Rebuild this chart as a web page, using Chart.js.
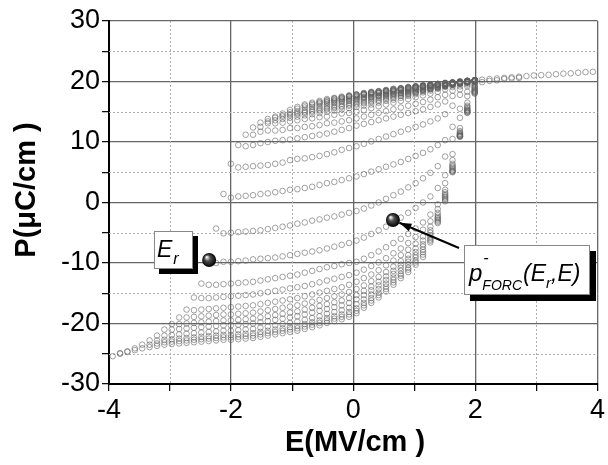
<!DOCTYPE html>
<html lang="en">
<head>
<meta charset="UTF-8">
<title>FORC</title>
<style>
  body { margin: 0; background: #fff; }
  canvas { display: block; }
</style>
</head>
<body>
<canvas id="forcChart" width="608" height="465"></canvas>
<script src="https://cdn.jsdelivr.net/npm/chart.js@4.4.0/dist/chart.umd.min.js"></script>
<script>
// field grid (MV/cm) shared by every reversal curve
const eGrid = [-3.94, -3.819, -3.698, -3.577, -3.456, -3.335, -3.214, -3.093, -2.972, -2.851,
  -2.73, -2.609, -2.488, -2.367, -2.246, -2.125, -2.004, -1.883, -1.762, -1.641,
  -1.52, -1.399, -1.278, -1.157, -1.036, -0.915, -0.794, -0.673, -0.552, -0.431,
  -0.31, -0.189, -0.068, 0.053, 0.174, 0.295, 0.416, 0.537, 0.658, 0.779,
  0.9, 1.021, 1.142, 1.263, 1.384, 1.505, 1.626, 1.747, 1.868, 1.989,
  2.11, 2.231, 2.352, 2.473, 2.594, 2.715, 2.836, 2.957, 3.078, 3.199,
  3.32, 3.441, 3.562, 3.683, 3.804, 3.925];

// descending branch (start point of every FORC) + saturated upper branch
const majorP = [-25.4, -24.9, -24.6, -24.1, -23.5, -22.8, -22.0, -21.0, -20.1, -19.0,
  -17.7, -15.7, -13.4, -9.8, -4.3, 1.4, 6.4, 9.5, 11.2, 12.4,
  13.2, 13.8, 14.2, 14.7, 15.3, 15.8, 16.2, 16.5, 16.8, 17.1,
  17.3, 17.5, 17.7, 17.9, 18.1, 18.3, 18.4, 18.6, 18.8, 18.9,
  19.1, 19.2, 19.4, 19.5, 19.6, 19.8, 19.9, 20.0, 20.1, 20.2,
  20.3, 20.4, 20.5, 20.6, 20.7, 20.8, 20.9, 21.0, 21.05, 21.1,
  21.2, 21.3, 21.35, 21.45, 21.55, 21.6];

// reversal curves: values after the start point, up to E = 1.989
const forc00 = [-25.0, -24.7, -24.4, -24.1, -23.9, -23.7, -23.5, -23.4, -23.3, -23.2,
  -23.1, -23.0, -22.9, -22.8, -22.7, -22.7, -22.6, -22.5, -22.4, -22.2,
  -22.0, -21.8, -21.6, -21.4, -21.2, -20.9, -20.6, -20.3, -19.9, -19.6,
  -19.3, -18.9, -18.3, -17.4, -16.6, -15.7, -14.7, -13.6, -12.5, -11.5,
  -10.3, -9.0, -6.6, -3.4, 0.2, 5.0, 10.9, 14.8, 18.0];
const forc04 = [-23.5, -23.3, -23.1, -23.0, -22.9, -22.8, -22.7, -22.6, -22.5, -22.4,
  -22.3, -22.3, -22.2, -22.1, -22.0, -21.8, -21.6, -21.4, -21.2, -21.0,
  -20.8, -20.5, -20.2, -19.9, -19.5, -19.2, -18.9, -18.5, -17.9, -17.0,
  -16.2, -15.3, -14.3, -13.2, -12.1, -11.1, -9.9, -8.6, -6.3, -3.2,
  0.4, 5.1, 10.9, 14.9, 18.1];
const forc05 = [-22.8, -22.7, -22.6, -22.5, -22.4, -22.3, -22.2, -22.1, -22.0, -21.9,
  -21.9, -21.8, -21.7, -21.6, -21.4, -21.2, -21.0, -20.8, -20.6, -20.4,
  -20.1, -19.8, -19.5, -19.1, -18.8, -18.5, -18.1, -17.5, -16.6, -15.8,
  -14.9, -13.9, -12.8, -11.8, -10.8, -9.6, -8.2, -6.1, -3.0, 0.6,
  5.2, 11.0, 15.0, 18.2];
const forc06 = [-22.0, -21.9, -21.8, -21.7, -21.6, -21.5, -21.4, -21.3, -21.2, -21.2,
  -21.1, -21.0, -20.9, -20.7, -20.5, -20.3, -20.1, -19.9, -19.7, -19.4,
  -19.1, -18.8, -18.4, -18.1, -17.8, -17.4, -16.8, -16.0, -15.2, -14.3,
  -13.4, -12.4, -11.3, -10.3, -9.1, -7.8, -5.8, -2.8, 0.8, 5.3,
  11.0, 15.1, 18.3];
const forc07 = [-21.0, -20.9, -20.8, -20.7, -20.6, -20.5, -20.4, -20.3, -20.3, -20.2,
  -20.1, -20.0, -19.8, -19.6, -19.4, -19.2, -19.0, -18.8, -18.5, -18.2,
  -17.9, -17.6, -17.3, -17.0, -16.6, -16.0, -15.3, -14.5, -13.7, -12.8,
  -11.8, -10.8, -9.8, -8.7, -7.3, -5.4, -2.6, 1.0, 5.5, 11.1,
  15.2, 18.4];
const forc08 = [-20.1, -20.0, -19.9, -19.8, -19.7, -19.6, -19.5, -19.5, -19.4, -19.3,
  -19.2, -19.0, -18.8, -18.6, -18.4, -18.2, -18.0, -17.7, -17.4, -17.1,
  -16.8, -16.5, -16.2, -15.8, -15.3, -14.6, -13.9, -13.1, -12.2, -11.3,
  -10.3, -9.3, -8.2, -6.9, -5.0, -2.4, 1.2, 5.7, 11.2, 15.3,
  18.5];
const forc09 = [-19.0, -18.9, -18.8, -18.7, -18.6, -18.5, -18.5, -18.4, -18.3, -18.2,
  -18.0, -17.8, -17.6, -17.4, -17.2, -17.0, -16.7, -16.4, -16.1, -15.8,
  -15.5, -15.2, -14.8, -14.3, -13.7, -13.0, -12.3, -11.5, -10.6, -9.7,
  -8.7, -7.6, -6.3, -4.6, -2.1, 1.4, 5.9, 11.3, 15.4, 18.6];
const forc10 = [-17.8, -17.7, -17.6, -17.5, -17.4, -17.3, -17.2, -17.1, -17.0, -16.8,
  -16.6, -16.4, -16.2, -16.0, -15.8, -15.5, -15.2, -14.9, -14.6, -14.3,
  -14.0, -13.6, -13.1, -12.5, -11.9, -11.2, -10.4, -9.6, -8.7, -7.8,
  -6.8, -5.6, -4.0, -1.7, 1.7, 6.1, 11.4, 15.6, 18.8];
const forc11 = [-15.8, -15.8, -15.7, -15.6, -15.5, -15.4, -15.3, -15.2, -15.0, -14.8,
  -14.6, -14.4, -14.2, -14.0, -13.8, -13.5, -13.2, -12.9, -12.6, -12.3,
  -12.0, -11.6, -11.1, -10.5, -9.9, -9.2, -8.4, -7.6, -6.7, -5.7,
  -4.5, -3.1, -1.1, 2.1, 6.4, 11.6, 15.8, 19.0];
const forc12 = [-13.6, -13.6, -13.5, -13.4, -13.3, -13.2, -13.1, -12.9, -12.7, -12.5,
  -12.3, -12.1, -11.9, -11.6, -11.3, -11.0, -10.7, -10.5, -10.2, -10.0,
  -9.8, -9.3, -8.7, -8.1, -7.4, -6.7, -6.0, -5.2, -4.3, -3.3,
  -2.0, -0.3, 3.2, 7.0, 11.8, 16.0, 19.1];
const forc13 = [-10.0, -9.8, -9.8, -9.7, -9.6, -9.4, -9.3, -9.2, -9.1, -8.9,
  -8.7, -8.5, -8.3, -8.1, -7.9, -7.6, -7.3, -7.0, -6.7, -6.3,
  -5.8, -5.2, -4.6, -4.0, -3.2, -2.5, -1.7, -0.9, 0.0, 1.0,
  2.4, 4.5, 8.0, 12.3, 16.5, 19.3];
const forc14 = [-5.1, -5.0, -4.9, -4.8, -4.7, -4.6, -4.4, -4.2, -4.0, -3.8,
  -3.5, -3.3, -3.0, -2.8, -2.5, -2.3, -2.0, -1.7, -1.4, -1.0,
  -0.5, 0.0, 0.6, 1.2, 1.8, 2.5, 3.2, 4.0, 4.9, 6.0,
  7.6, 10.5, 14.0, 17.6, 19.5];
const forc15 = [0.8, 1.0, 1.1, 1.2, 1.4, 1.5, 1.7, 1.9, 2.1, 2.2,
  2.4, 2.6, 2.9, 3.2, 3.4, 3.7, 4.0, 4.3, 4.7, 5.1,
  5.5, 5.9, 6.3, 6.7, 7.2, 7.7, 8.2, 8.8, 9.5, 10.3,
  12.5, 15.5, 18.3, 19.7];
const forc16 = [5.8, 5.9, 6.0, 6.1, 6.2, 6.4, 6.6, 7.0, 7.2, 7.3,
  7.5, 7.7, 8.0, 8.3, 8.7, 9.0, 9.3, 9.7, 10.1, 10.5,
  10.9, 11.3, 11.7, 12.1, 12.5, 12.9, 13.4, 13.9, 14.6, 16.0,
  17.8, 19.2, 19.9];
const forc17 = [9.3, 9.5, 9.8, 10.0, 10.2, 10.3, 10.4, 10.6, 10.8, 11.0,
  11.2, 11.4, 11.7, 12.0, 12.3, 12.7, 13.0, 13.3, 13.6, 13.9,
  14.2, 14.5, 14.8, 15.1, 15.4, 15.8, 16.2, 16.7, 17.6, 18.7,
  19.5, 20.0];
const forc18 = [11.2, 11.7, 11.9, 11.9, 12.0, 12.3, 12.3, 12.5, 12.6, 12.8,
  13.1, 13.2, 13.4, 13.6, 13.9, 14.2, 14.5, 14.8, 15.1, 15.4,
  15.7, 16.0, 16.3, 16.6, 17.0, 17.4, 17.8, 18.5, 19.2, 19.7,
  20.0];
const forc19 = [12.5, 13.1, 13.1, 13.2, 13.4, 13.6, 13.8, 13.9, 14.1, 14.2,
  14.5, 14.7, 14.8, 15.0, 15.3, 15.6, 15.9, 16.2, 16.5, 16.8,
  17.1, 17.4, 17.7, 18.0, 18.3, 18.7, 19.1, 19.5, 19.8, 20.1];
const forc20 = [13.4, 13.6, 13.8, 14.0, 14.2, 14.4, 14.6, 14.8, 15.0, 15.2,
  15.4, 15.6, 15.8, 16.0, 16.2, 16.5, 16.8, 17.0, 17.3, 17.6,
  17.9, 18.2, 18.5, 18.8, 19.1, 19.4, 19.7, 19.9, 20.1];
const forc21 = [14.0, 14.2, 14.4, 14.6, 14.8, 15.0, 15.2, 15.4, 15.6, 15.8,
  16.0, 16.2, 16.4, 16.6, 16.8, 17.1, 17.3, 17.6, 17.8, 18.1,
  18.4, 18.7, 18.9, 19.2, 19.5, 19.7, 19.9, 20.1];
const forc22 = [14.4, 14.6, 14.8, 15.0, 15.2, 15.4, 15.6, 15.8, 16.0, 16.2,
  16.4, 16.6, 16.8, 17.0, 17.3, 17.5, 17.7, 18.0, 18.2, 18.5,
  18.8, 19.0, 19.3, 19.5, 19.8, 20.0, 20.1];
const forc23 = [14.9, 15.1, 15.3, 15.5, 15.7, 15.9, 16.1, 16.3, 16.5, 16.7,
  16.9, 17.1, 17.3, 17.5, 17.7, 17.9, 18.1, 18.3, 18.6, 18.8,
  19.0, 19.3, 19.5, 19.7, 19.9, 20.1];
const forc24 = [15.5, 15.7, 15.8, 16.0, 16.2, 16.4, 16.6, 16.8, 16.9, 17.1,
  17.3, 17.5, 17.7, 17.9, 18.1, 18.3, 18.5, 18.7, 18.9, 19.1,
  19.3, 19.5, 19.7, 19.9, 20.1];
const forc25 = [16.0, 16.1, 16.3, 16.5, 16.6, 16.8, 16.9, 17.1, 17.3, 17.4,
  17.6, 17.8, 18.0, 18.1, 18.3, 18.5, 18.7, 18.9, 19.1, 19.3,
  19.5, 19.7, 19.9, 20.1];
const forc26 = [16.3, 16.5, 16.6, 16.8, 16.9, 17.1, 17.2, 17.4, 17.5, 17.7,
  17.9, 18.0, 18.2, 18.4, 18.6, 18.8, 19.0, 19.2, 19.4, 19.6,
  19.8, 19.9, 20.1];
const forc27 = [16.6, 16.8, 16.9, 17.1, 17.2, 17.4, 17.5, 17.7, 17.8, 18.0,
  18.2, 18.3, 18.5, 18.7, 18.9, 19.1, 19.3, 19.4, 19.6, 19.8,
  20.0, 20.1];
const forc28 = [16.9, 17.1, 17.2, 17.4, 17.5, 17.7, 17.8, 18.0, 18.1, 18.3,
  18.5, 18.6, 18.8, 19.0, 19.2, 19.3, 19.5, 19.7, 19.8, 20.0, 20.1];
const forc29 = [17.2, 17.3, 17.5, 17.6, 17.8, 17.9, 18.1, 18.2, 18.4, 18.5,
  18.7, 18.9, 19.0, 19.2, 19.4, 19.5, 19.7, 19.8, 20.0, 20.1];
const forc30 = [17.4, 17.6, 17.7, 17.9, 18.0, 18.1, 18.3, 18.4, 18.6, 18.7,
  18.9, 19.1, 19.2, 19.4, 19.5, 19.7, 19.8, 20.0, 20.1];
const forc31 = [17.6, 17.8, 17.9, 18.1, 18.2, 18.4, 18.5, 18.6, 18.8, 18.9,
  19.1, 19.3, 19.4, 19.6, 19.7, 19.9, 20.0, 20.1];
const forc32 = [17.8, 18.0, 18.1, 18.3, 18.4, 18.6, 18.7, 18.9, 19.0, 19.2,
  19.3, 19.5, 19.6, 19.7, 19.9, 20.0, 20.2];
const forc33 = [18.0, 18.2, 18.3, 18.5, 18.6, 18.8, 18.9, 19.1, 19.2, 19.4,
  19.5, 19.6, 19.8, 19.9, 20.0, 20.2];
const forc34 = [18.2, 18.4, 18.5, 18.7, 18.8, 19.0, 19.1, 19.2, 19.4, 19.5,
  19.7, 19.8, 19.9, 20.1, 20.2];
const forc36 = [18.5, 18.7, 18.8, 19.0, 19.1, 19.3, 19.4, 19.5, 19.7, 19.8, 19.9, 20.1, 20.2];
const forc38 = [18.9, 19.0, 19.2, 19.3, 19.4, 19.6, 19.7, 19.8, 20.0, 20.1, 20.2];
const forc40 = [19.2, 19.3, 19.4, 19.6, 19.7, 19.8, 20.0, 20.1, 20.2];
const forc42 = [19.4, 19.5, 19.7, 19.8, 19.9, 20.1, 20.2];
const forc44 = [19.7, 19.8, 19.9, 20.1, 20.2];

// slightly lower points where the curves join the upper branch (E = 2.11 ...)
const lateTail = [19.9, 20.1, 20.2, 20.4, 20.5, 20.6];

const forcStart = [0, 4, 5, 6, 7, 8, 9, 10, 11, 12, 13, 14, 15, 16, 17, 18, 19,
  20, 21, 22, 23, 24, 25, 26, 27, 28, 29, 30, 31, 32, 33, 34, 36, 38, 40, 42, 44];
const forcCurves = [forc00, forc04, forc05, forc06, forc07, forc08, forc09, forc10, forc11,
  forc12, forc13, forc14, forc15, forc16, forc17, forc18, forc19, forc20, forc21, forc22,
  forc23, forc24, forc25, forc26, forc27, forc28, forc29, forc30, forc31, forc32, forc33,
  forc34, forc36, forc38, forc40, forc42, forc44];

// annotation markers (E, P)
const erMarker = { x: -2.36, y: -9.5 };
const forcMarker = { x: 0.65, y: -2.9 };

const xTicks = [-4, -2, 0, 2, 4];
const yTicks = [-30, -20, -10, 0, 10, 20, 30];

function curvePoints(start, values) {
  return values.map((p, j) => ({ x: eGrid[start + 1 + j], y: p }));
}

const pointStyle = {
  showLine: false,
  pointRadius: 2.8,
  pointBorderWidth: 0.9,
  pointBorderColor: 'rgba(95,95,95,0.65)',
  pointBackgroundColor: 'rgba(255,255,255,0)',
  pointHoverRadius: 2.8
};

const datasets = [];
datasets.push(Object.assign({ data: majorP.map((p, i) => ({ x: eGrid[i], y: p })) }, pointStyle));
datasets.push(Object.assign({ data: lateTail.map((p, j) => ({ x: eGrid[50 + j], y: p })) }, pointStyle));
for (let k = 0; k < forcCurves.length; k++) {
  datasets.push(Object.assign({ data: curvePoints(forcStart[k], forcCurves[k]) }, pointStyle));
}

const FONT = '"Liberation Sans", Arial, sans-serif';

function sphere(ctx, x, y, r) {
  const g = ctx.createRadialGradient(x - r * 0.35, y - r * 0.4, r * 0.1, x, y, r);
  g.addColorStop(0, '#e8e8e8');
  g.addColorStop(0.35, '#505050');
  g.addColorStop(1, '#000');
  ctx.beginPath();
  ctx.arc(x, y, r, 0, Math.PI * 2);
  ctx.fillStyle = g;
  ctx.fill();
}

function shadowBox(ctx, x, y, w, h, off) {
  ctx.fillStyle = '#000';
  ctx.fillRect(x + off, y + off, w, h);
  ctx.fillStyle = '#fff';
  ctx.fillRect(x, y, w, h);
  ctx.strokeStyle = '#888';
  ctx.lineWidth = 1;
  ctx.strokeRect(x + 0.5, y + 0.5, w - 1, h - 1);
}

const decor = {
  id: 'decor',
  beforeDatasetsDraw(chart) {
    const ctx = chart.ctx, xs = chart.scales.x, ys = chart.scales.y, a = chart.chartArea;
    ctx.save();
    ctx.strokeStyle = '#b0b0b0';
    ctx.lineWidth = 1;
    ctx.setLineDash([2, 2]);
    [-3, -1, 1, 3].forEach(v => {
      const px = Math.round(xs.getPixelForValue(v)) + 0.5;
      ctx.beginPath(); ctx.moveTo(px, a.top); ctx.lineTo(px, a.bottom); ctx.stroke();
    });
    [-25, -15, -5, 5, 15, 25].forEach(v => {
      const py = Math.round(ys.getPixelForValue(v)) + 0.5;
      ctx.beginPath(); ctx.moveTo(a.left, py); ctx.lineTo(a.right, py); ctx.stroke();
    });
    ctx.restore();
  },
  afterDatasetsDraw(chart) {
    const ctx = chart.ctx, xs = chart.scales.x, ys = chart.scales.y;
    ctx.save();

    // E_r label
    shadowBox(ctx, 154, 231, 39, 38, 5);
    ctx.fillStyle = '#000';
    ctx.textBaseline = 'alphabetic';
    ctx.font = 'italic 23px ' + FONT;
    ctx.fillText('E', 157, 257);
    let w = ctx.measureText('E').width;
    ctx.font = 'italic 16px ' + FONT;
    ctx.fillText('r', 157 + w + 1, 264);

    // markers
    const ex = xs.getPixelForValue(erMarker.x), ey = ys.getPixelForValue(erMarker.y);
    sphere(ctx, ex, ey, 7);
    const fx = xs.getPixelForValue(forcMarker.x), fy = ys.getPixelForValue(forcMarker.y);
    sphere(ctx, fx, fy, 7);

    // pointer line with arrow head at the marker
    const bx = 459, by = 248;
    const ang = Math.atan2(fy - by, fx - bx);
    const tipX = fx - Math.cos(ang) * 7, tipY = fy - Math.sin(ang) * 7;
    ctx.strokeStyle = '#000';
    ctx.lineWidth = 2;
    ctx.beginPath(); ctx.moveTo(bx, by); ctx.lineTo(tipX, tipY); ctx.stroke();
    ctx.beginPath();
    ctx.moveTo(tipX, tipY);
    ctx.lineTo(tipX - Math.cos(ang) * 12 + Math.sin(ang) * 4, tipY - Math.sin(ang) * 12 - Math.cos(ang) * 4);
    ctx.lineTo(tipX - Math.cos(ang) * 12 - Math.sin(ang) * 4, tipY - Math.sin(ang) * 12 + Math.cos(ang) * 4);
    ctx.closePath();
    ctx.fillStyle = '#000';
    ctx.fill();

    // p-_FORC(E_r,E) label
    shadowBox(ctx, 464, 245, 126, 50, 6);
    ctx.fillStyle = '#000';
    let x = 469;
    ctx.font = 'italic 24px ' + FONT;
    ctx.fillText('p', x, 281);
    x += ctx.measureText('p').width;
    ctx.font = 'italic 16px ' + FONT;
    ctx.fillText('-', x + 1, 263);
    ctx.font = 'italic 14px ' + FONT;
    ctx.fillText('FORC', x, 290);
    x += ctx.measureText('FORC').width + 1;
    ctx.font = 'italic 23px ' + FONT;
    ctx.fillText('(E', x, 281);
    x += ctx.measureText('(E').width;
    ctx.font = 'italic 15px ' + FONT;
    ctx.fillText('r', x, 288);
    x += ctx.measureText('r').width;
    ctx.font = 'italic 23px ' + FONT;
    ctx.fillText(',E)', x, 281);

    // axis titles
    ctx.font = 'bold 29px ' + FONT;
    ctx.textAlign = 'center';
    ctx.textBaseline = 'middle';
    ctx.fillText('E(MV/cm )', 355, 443);
    ctx.translate(27, 190);
    ctx.rotate(-Math.PI / 2);
    ctx.fillText('P(\u03BCC/cm )', 0, 0);
    ctx.restore();
  }
};

new Chart(document.getElementById('forcChart'), {
  type: 'scatter',
  data: { datasets: datasets },
  options: {
    responsive: false,
    animation: false,
    events: [],
    layout: { padding: { top: 21, right: 7, left: 0, bottom: 0 } },
    plugins: { legend: { display: false }, tooltip: { enabled: false } },
    scales: {
      x: {
        type: 'linear', min: -4, max: 4,
        ticks: {
          stepSize: 1, autoSkip: false, maxRotation: 0, padding: 3, color: '#000',
          font: { family: FONT, size: 27 },
          callback: (v) => xTicks.includes(v) ? String(v) : ''
        },
        grid: {
          color: (c) => (c.tick && xTicks.includes(c.tick.value)) ? '#666' : 'rgba(0,0,0,0)',
          lineWidth: 1.3, tickColor: '#000', tickLength: 7, tickWidth: 1.2
        },
        border: { color: '#000', width: 2 },
        afterFit: (s) => { s.height = 81; }
      },
      y: {
        type: 'linear', min: -30, max: 30,
        ticks: {
          stepSize: 5, autoSkip: false, padding: 2, color: '#000',
          font: { family: FONT, size: 27 },
          callback: (v) => yTicks.includes(v) ? String(v) : ''
        },
        grid: {
          color: (c) => (c.tick && yTicks.includes(c.tick.value)) ? '#666' : 'rgba(0,0,0,0)',
          lineWidth: 1.3, tickColor: '#000', tickLength: 7, tickWidth: 1.2
        },
        border: { color: '#000', width: 2 },
        afterFit: (s) => { s.width = 109; }
      }
    }
  },
  plugins: [decor]
});
</script>
</body>
</html>
